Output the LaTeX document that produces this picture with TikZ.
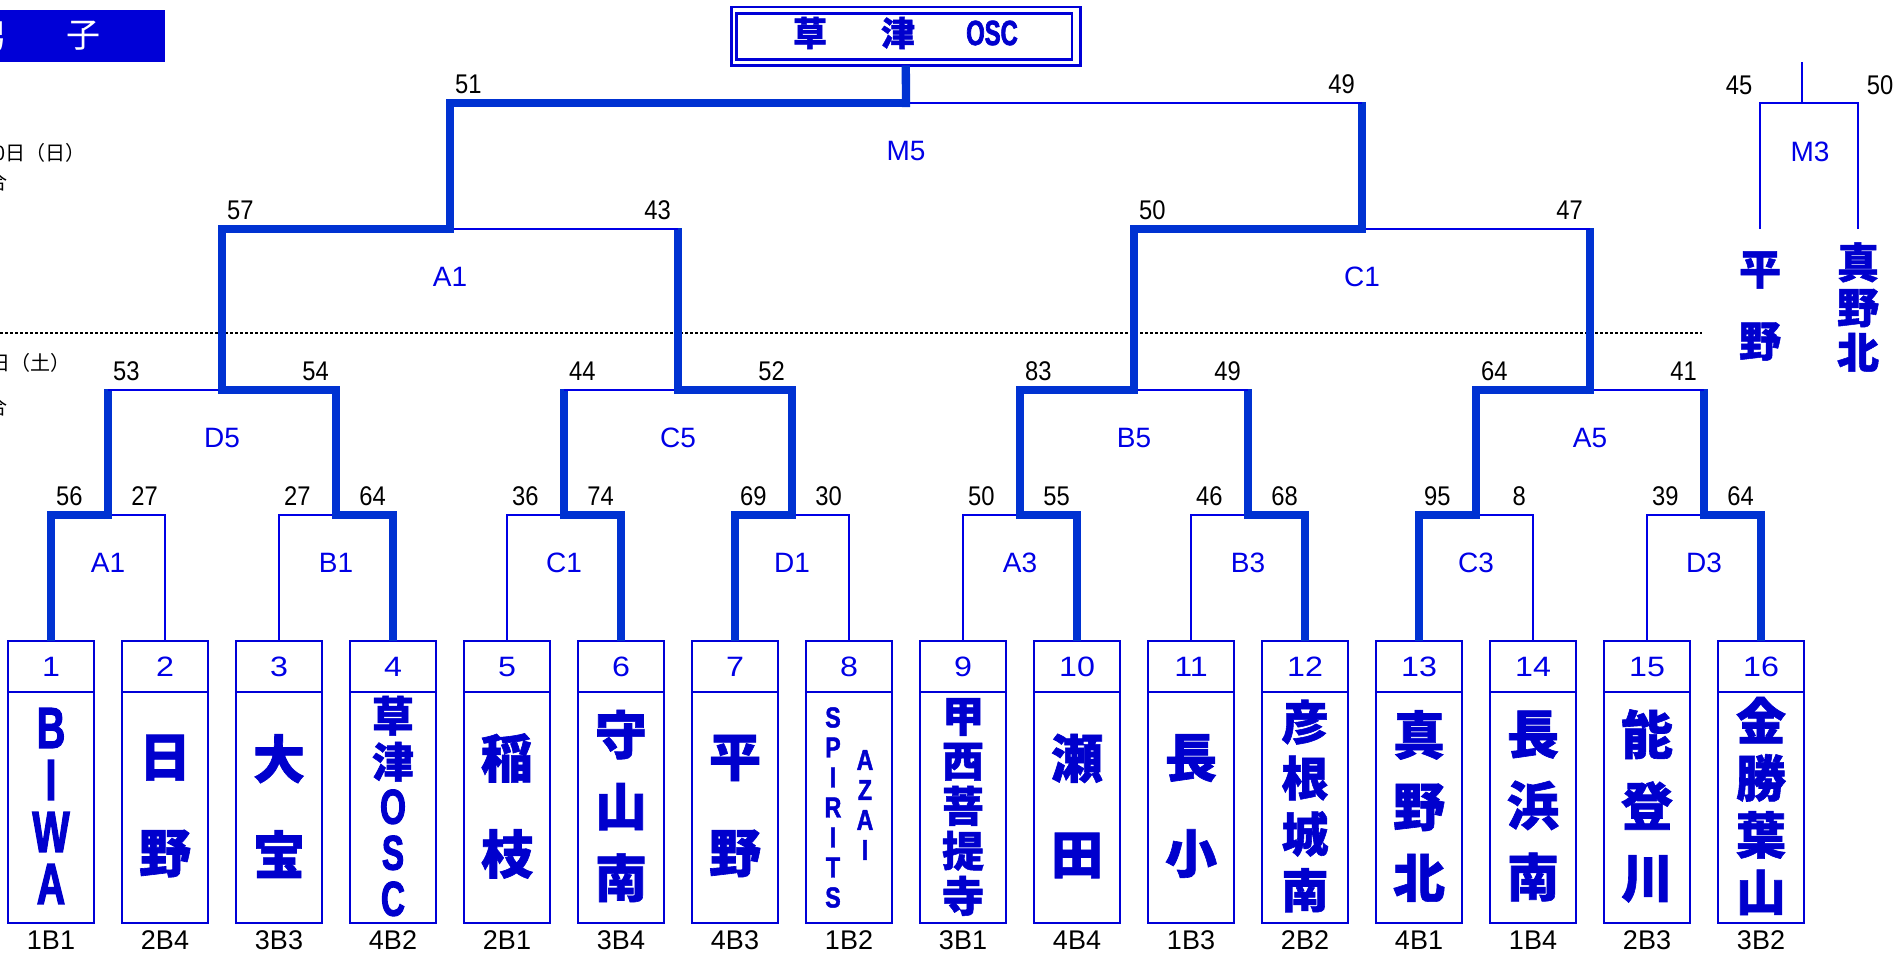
\documentclass[tikz,border=0pt]{standalone}
\usepackage{fontspec}
\setmainfont{Liberation Sans}
\newfontfamily\cjk{Noto Sans CJK JP}
\newfontfamily\cjkH{Noto Sans CJK JP}[FakeBold=1.2]
\newfontfamily\numf{Liberation Sans}[FakeStretch=0.88]
\newfontfamily\condA{Liberation Sans}[FakeStretch=0.68,FakeBold=2]
\newfontfamily\condB{Liberation Sans}[FakeStretch=0.8,FakeBold=1.5]
\newfontfamily\widef{Liberation Sans}[FakeStretch=1.15]
\definecolor{lineblue}{RGB}{0,0,230}
\definecolor{thickblue}{RGB}{0,50,210}
\definecolor{boxblue}{RGB}{0,0,215}
\definecolor{nameblue}{RGB}{0,0,205}
\definecolor{fillblue}{RGB}{0,0,215}
% match: name, xL, xR, y, left score, right score, label
\newcommand\match[7]{%
  \coordinate (#1) at ({(#2+#3)/2},#4);
  \node[scorelbl,anchor=base west] at ({#2+5},{#4-10}) {#5};
  \node[scorelbl,anchor=base east] at ({#3-7},{#4-10}) {#6};
  \node[mlbl] at ({(#2+#3)/2},{#4+48}) {#7};
}
\newcommand\wfirst[2]{\draw[lnthick] (#1) |- (#2);}
\newcommand\lfirst[2]{\draw[lnthin] (#1) |- (#2);}
\newcommand\wup[2]{\draw[lnthick] ([yshift=-4.15pt]#1) |- (#2);}
\newcommand\lup[2]{%
  \coordinate (tmpc) at (#1 |- #2);
  \draw[lnthick] ([yshift=-4.15pt]#1) -- ([yshift=1.25pt]tmpc);
  \draw[lnthin] (tmpc) -- (#2);}
\begin{document}
\begin{tikzpicture}[x=1pt,y=-1pt,
  tbox/.style={draw=boxblue,line width=2.7pt,minimum width=86pt,minimum height=282pt,inner sep=0pt,outer sep=0pt},
  boxline/.style={draw=boxblue,line width=2.7pt},
  lnthin/.style={draw=lineblue,line width=2.5pt},
  lnthick/.style={draw=thickblue,line width=8.3pt,line join=miter},
  m3line/.style={draw=lineblue,line width=2.8pt},
  scorelbl/.style={font=\numf\fontsize{27}{27}\selectfont,inner sep=0pt},
  mlbl/.style={text=lineblue,font=\fontsize{28}{28}\selectfont,inner sep=0pt},
  boxnum/.style={text=lineblue,font=\widef\fontsize{28}{28}\selectfont,inner sep=0pt},
  seedlbl/.style={font=\fontsize{27}{27}\selectfont,inner sep=0pt},
  nm/.style={text=nameblue,align=center,inner sep=0pt},
  cjkname/.style 2 args={nm,font=\cjkH\bfseries\fontsize{#1}{#2}\selectfont},
  latname/.style 2 args={nm,font=\condA\bfseries\fontsize{#1}{#2}\selectfont},
  smlname/.style 2 args={nm,font=\condB\bfseries\fontsize{#1}{#2}\selectfont},
  blktxt/.style={font=\cjk\fontsize{20}{20}\selectfont,inner sep=0pt,anchor=east},
  titleline/.style={draw=boxblue,line width=2.7pt},
  titletxt/.style={text=nameblue,font=\cjkH\bfseries\fontsize{34}{34}\selectfont,inner sep=0pt},
  dotline/.style={draw=black,line width=2.5pt,dash pattern=on 2.5pt off 2.5pt}
]
\useasboundingbox (0,0) rectangle (1896,954);

% top-left heading
\node[fill=fillblue,minimum width=165pt,minimum height=52pt,inner sep=0pt,anchor=north west] (sexbox) at (0,10) {};
\node[text=white,font=\cjk\fontsize{34}{34}\selectfont,inner sep=0pt] at (-9,36) {男};
\node[text=white,font=\cjk\fontsize{34}{34}\selectfont,inner sep=0pt] at (83,36) {子};

% left margin fragments
\node[blktxt] at (86,153) {10日（日）};
\node[blktxt] at (8,182) {4試合};
\node[blktxt] at (71,363) {9日（土）};
\node[blktxt] at (8,407) {4試合};

% dotted day separator
\coordinate (dl) at (0,333);
\coordinate (dr) at (1702,333);
\draw[dotline] (dl) -- (dr);

% title (champion)
\node[titleline,minimum width=349pt,minimum height=58.3pt,inner sep=0pt,outer sep=0pt] (title) at (905.8,36.2) {};
\draw[titleline] ([shift={(5pt,5.6pt)}]title.south west) rectangle ([shift={(-8.3pt,-6.7pt)}]title.north east);
\node[titletxt] at (810,33) {草};
\node[titletxt] at (898,33) {津};
\node[text=nameblue,font=\condA\bfseries\fontsize{35}{35}\selectfont,inner sep=0pt] at (992,33) {OSC};

% team boxes
\foreach \i in {1,...,16} {
  \pgfmathsetmacro\cx{51+114*(\i-1)}
  \node[tbox] (b\i) at (\cx,782) {};
  \draw[boxline] ([yshift=-51pt]b\i.north west) -- ([yshift=-51pt]b\i.north east);
  \node[boxnum] at ([yshift=-26pt]b\i.north) {\i};
}
\foreach \i/\lab in {1/1B1,2/2B4,3/3B3,4/4B2,5/2B1,6/3B4,7/4B3,8/1B2,9/3B1,10/4B4,11/1B3,12/2B2,13/4B1,14/1B4,15/2B3,16/3B2}
  \node[seedlbl] at ([yshift=-17pt]b\i.south) {\lab};

% team names
\node[latname={58}{52}] at ([yshift=-24pt]b1.center) {B\\I\\W\\A};
\node[cjkname={52}{96}] at ([yshift=-24pt]b2.center) {日\\野};
\node[cjkname={52}{96}] at ([yshift=-24pt]b3.center) {大\\宝};
\node[nm,font=\cjkH\bfseries\fontsize{42}{46}\selectfont] at ([yshift=-24pt]b4.center)
  {草\\津\\{\condA\bfseries\fontsize{49}{46}\selectfont O}\\{\condA\bfseries\fontsize{49}{46}\selectfont S}\\{\condA\bfseries\fontsize{49}{46}\selectfont C}};
\node[cjkname={52}{96}] at ([yshift=-24pt]b5.center) {稲\\枝};
\node[cjkname={52}{71.5}] at ([yshift=-24pt]b6.center) {守\\山\\南};
\node[cjkname={52}{96}] at ([yshift=-24pt]b7.center) {平\\野};
\node[smlname={29}{30}] at ([xshift=-16pt,yshift=-25.5pt]b8.center) {S\\P\\I\\R\\I\\T\\S};
\node[smlname={29}{30}] at ([xshift=16pt,yshift=-23pt]b8.center) {A\\Z\\A\\I};
\node[cjkname={42}{45}] at ([yshift=-25pt]b9.center) {甲\\西\\菩\\提\\寺};
\node[cjkname={52}{96}] at ([yshift=-24pt]b10.center) {瀬\\田};
\node[cjkname={52}{96}] at ([yshift=-24pt]b11.center) {長\\小};
\node[cjkname={47}{56}] at ([yshift=-24pt]b12.center) {彦\\根\\城\\南};
\node[cjkname={52}{71.5}] at ([yshift=-24pt]b13.center) {真\\野\\北};
\node[cjkname={52}{71.5}] at ([yshift=-24pt]b14.center) {長\\浜\\南};
\node[cjkname={52}{71.5}] at ([yshift=-24pt]b15.center) {能\\登\\川};
\node[cjkname={50}{57}] at ([yshift=-24pt]b16.center) {金\\勝\\葉\\山};

% matches: coordinates, scores, labels
\match{mA1}{51}{165}{515}{56}{27}{A1}
\match{mB1}{279}{393}{515}{27}{64}{B1}
\match{mC1}{507}{621}{515}{36}{74}{C1}
\match{mD1}{735}{849}{515}{69}{30}{D1}
\match{mA3}{963}{1077}{515}{50}{55}{A3}
\match{mB3}{1191}{1305}{515}{46}{68}{B3}
\match{mC3}{1419}{1533}{515}{95}{8}{C3}
\match{mD3}{1647}{1761}{515}{39}{64}{D3}
\match{mD5}{108}{336}{390}{53}{54}{D5}
\match{mC5}{564}{792}{390}{44}{52}{C5}
\match{mB5}{1020}{1248}{390}{83}{49}{B5}
\match{mA5}{1476}{1704}{390}{64}{41}{A5}
\match{sA1}{222}{678}{229}{57}{43}{A1}
\match{sC1}{1134}{1590}{229}{50}{47}{C1}
\match{fM5}{450}{1362}{103}{51}{49}{M5}

% first round
\wfirst{b1.north}{mA1} \lfirst{b2.north}{mA1}
\lfirst{b3.north}{mB1} \wfirst{b4.north}{mB1}
\lfirst{b5.north}{mC1} \wfirst{b6.north}{mC1}
\wfirst{b7.north}{mD1} \lfirst{b8.north}{mD1}
\lfirst{b9.north}{mA3} \wfirst{b10.north}{mA3}
\lfirst{b11.north}{mB3} \wfirst{b12.north}{mB3}
\wfirst{b13.north}{mC3} \lfirst{b14.north}{mC3}
\lfirst{b15.north}{mD3} \wfirst{b16.north}{mD3}
% second round
\lup{mA1}{mD5} \wup{mB1}{mD5}
\lup{mC1}{mC5} \wup{mD1}{mC5}
\wup{mA3}{mB5} \lup{mB3}{mB5}
\wup{mC3}{mA5} \lup{mD3}{mA5}
% semifinals
\wup{mD5}{sA1} \lup{mC5}{sA1}
\wup{mB5}{sC1} \lup{mA5}{sC1}
% final
\wup{sA1}{fM5} \lup{sC1}{fM5}
\draw[lnthick] ([yshift=-4.15pt]fM5) -- (title.south);

% third place match M3
\coordinate (m3top) at (1802,62);
\coordinate (m3) at (1802,103);
\coordinate (m3l) at (1760,229);
\coordinate (m3r) at (1858,229);
\draw[m3line] (m3top) -- (m3);
\draw[m3line] (m3l) |- (m3);
\draw[m3line] (m3r) |- (m3);
\node[scorelbl] at (1739,85) {45};
\node[scorelbl] at (1880,85) {50};
\node[mlbl] at (1810,152) {M3};
\node[cjkname={42}{72}] (hirano) at (1760,306) {平\\野};
\node[cjkname={42}{45}] (manokita) at (1858,307) {真\\野\\北};
\end{tikzpicture}
\end{document}
